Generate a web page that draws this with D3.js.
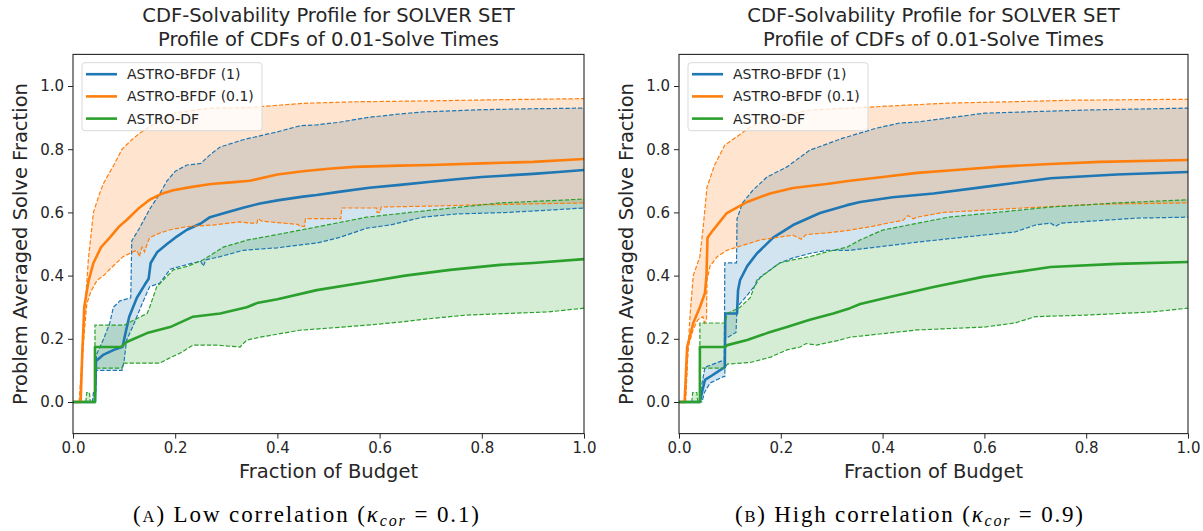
<!DOCTYPE html>
<html>
<head>
<meta charset="utf-8">
<script src="https://cdn.jsdelivr.net/npm/d3@7"></script>
<style>
  body { margin: 0; background: #fff; }
  text { font-family: "DejaVu Sans", sans-serif; fill: #262626; }
</style>
</head>
<body>
<div id="chart"></div>
<script>
// ---- data ([fraction of budget, solve fraction]) ----
const xTicks = [0, 0.2, 0.4, 0.6, 0.8, 1.0];
const yTicks = [0, 0.2, 0.4, 0.6, 0.8, 1.0];
const solvers = ["ASTRO-BFDF (1)", "ASTRO-BFDF (0.1)", "ASTRO-DF"];
const colors = ["#1f77b4", "#ff7f0e", "#2ca02c"];
const titleLines = ["CDF-Solvability Profile for SOLVER SET", "Profile of CDFs of 0.01-Solve Times"];

// low correlation panel
const lowBlueMean = [[0,0],[0.043,0],[0.045,0.13],[0.06,0.15],[0.08,0.165],[0.097,0.175],[0.103,0.22],[0.11,0.27],[0.125,0.33],[0.14,0.37],[0.148,0.39],[0.152,0.44],[0.165,0.475],[0.184,0.5],[0.2,0.52],[0.223,0.545],[0.25,0.565],[0.268,0.585],[0.3,0.6],[0.333,0.615],[0.366,0.628],[0.4,0.638],[0.45,0.65],[0.477,0.655],[0.52,0.665],[0.58,0.678],[0.64,0.687],[0.7,0.697],[0.75,0.705],[0.8,0.712],[0.85,0.717],[0.9,0.722],[0.95,0.728],[1.0,0.734]];
const lowBlueHi = [[0,0],[0.038,0],[0.04,0.03],[0.044,0.03],[0.046,0.15],[0.06,0.2],[0.072,0.25],[0.079,0.3],[0.092,0.32],[0.113,0.33],[0.115,0.51],[0.13,0.55],[0.15,0.61],[0.17,0.66],[0.184,0.7],[0.2,0.73],[0.223,0.75],[0.25,0.755],[0.27,0.785],[0.288,0.807],[0.333,0.83],[0.4,0.855],[0.444,0.874],[0.477,0.877],[0.52,0.885],[0.575,0.9],[0.63,0.91],[0.685,0.918],[0.8,0.925],[0.9,0.928],[1.0,0.93]];
const lowBlueLo = [[0,0],[0.042,0],[0.044,0.02],[0.046,0.1],[0.096,0.1],[0.1,0.13],[0.105,0.196],[0.12,0.25],[0.135,0.31],[0.15,0.365],[0.17,0.376],[0.19,0.42],[0.235,0.44],[0.25,0.445],[0.255,0.43],[0.26,0.45],[0.288,0.46],[0.333,0.48],[0.4,0.488],[0.477,0.503],[0.52,0.52],[0.575,0.55],[0.62,0.56],[0.685,0.585],[0.75,0.595],[0.85,0.6],[0.93,0.607],[1.0,0.614]];
const lowOrangeMean = [[0,0],[0.015,0],[0.018,0.15],[0.022,0.3],[0.03,0.38],[0.04,0.44],[0.055,0.49],[0.072,0.52],[0.09,0.555],[0.105,0.576],[0.13,0.615],[0.15,0.64],[0.175,0.66],[0.196,0.67],[0.23,0.68],[0.27,0.69],[0.31,0.695],[0.346,0.7],[0.4,0.72],[0.45,0.73],[0.5,0.738],[0.55,0.744],[0.64,0.748],[0.7,0.75],[0.8,0.755],[0.9,0.76],[1.0,0.769]];
const lowOrangeHi = [[0,0],[0.012,0],[0.016,0.1],[0.02,0.22],[0.023,0.28],[0.03,0.45],[0.04,0.6],[0.05,0.65],[0.059,0.69],[0.08,0.75],[0.096,0.8],[0.115,0.83],[0.13,0.85],[0.164,0.886],[0.2,0.915],[0.27,0.93],[0.346,0.932],[0.45,0.945],[0.55,0.95],[0.7,0.953],[0.85,0.957],[1.0,0.96]];
const lowOrangeLo = [[0,0],[0.014,0],[0.018,0.12],[0.022,0.22],[0.027,0.31],[0.035,0.35],[0.047,0.385],[0.06,0.4],[0.072,0.42],[0.085,0.44],[0.098,0.46],[0.117,0.475],[0.125,0.48],[0.13,0.46],[0.135,0.49],[0.14,0.475],[0.145,0.5],[0.15,0.52],[0.17,0.535],[0.19,0.545],[0.223,0.555],[0.274,0.56],[0.327,0.57],[0.346,0.566],[0.36,0.566],[0.362,0.58],[0.37,0.572],[0.44,0.562],[0.444,0.556],[0.453,0.556],[0.455,0.58],[0.524,0.58],[0.526,0.614],[0.594,0.614],[0.595,0.6],[0.601,0.6],[0.603,0.617],[0.7,0.62],[0.8,0.624],[0.9,0.627],[1.0,0.63]];
const lowGreenMean = [[0,0],[0.043,0],[0.043,0.174],[0.094,0.174],[0.105,0.19],[0.145,0.218],[0.19,0.237],[0.235,0.27],[0.288,0.28],[0.34,0.3],[0.36,0.313],[0.4,0.325],[0.477,0.354],[0.575,0.38],[0.65,0.4],[0.738,0.418],[0.836,0.434],[0.9,0.44],[1.0,0.452]];
const lowGreenHi = [[0,0],[0.025,0],[0.027,0.03],[0.032,0.03],[0.034,0],[0.043,0],[0.043,0.243],[0.1,0.243],[0.12,0.26],[0.145,0.28],[0.15,0.3],[0.164,0.365],[0.196,0.418],[0.225,0.43],[0.255,0.45],[0.294,0.49],[0.34,0.512],[0.4,0.53],[0.477,0.554],[0.575,0.585],[0.7,0.607],[0.836,0.63],[1.0,0.642]];
const lowGreenLo = [[0,0],[0.043,0],[0.043,0.107],[0.096,0.107],[0.098,0.123],[0.17,0.123],[0.19,0.14],[0.21,0.155],[0.235,0.18],[0.28,0.18],[0.327,0.174],[0.34,0.196],[0.366,0.205],[0.444,0.227],[0.575,0.243],[0.64,0.253],[0.705,0.265],[0.77,0.275],[0.93,0.285],[1.0,0.297]];

// high correlation panel
const highBlueMean = [[0,0],[0.041,0],[0.045,0.03],[0.051,0.07],[0.061,0.08],[0.08,0.1],[0.09,0.11],[0.091,0.28],[0.114,0.28],[0.116,0.354],[0.12,0.386],[0.134,0.43],[0.153,0.47],[0.185,0.52],[0.224,0.56],[0.277,0.598],[0.33,0.623],[0.356,0.633],[0.42,0.648],[0.5,0.66],[0.597,0.68],[0.73,0.708],[0.86,0.72],[1.0,0.728]];
const highBlueHi = [[0,0],[0.04,0],[0.043,0.04],[0.051,0.11],[0.089,0.133],[0.09,0.44],[0.113,0.44],[0.114,0.58],[0.125,0.63],[0.145,0.67],[0.173,0.712],[0.212,0.744],[0.257,0.797],[0.322,0.835],[0.389,0.867],[0.434,0.883],[0.468,0.886],[0.6,0.914],[0.8,0.924],[1.0,0.93]];
const highBlueLo = [[0,0],[0.045,0],[0.05,0.03],[0.061,0.06],[0.087,0.08],[0.09,0.08],[0.091,0.2],[0.112,0.22],[0.114,0.3],[0.13,0.33],[0.15,0.37],[0.16,0.396],[0.198,0.44],[0.224,0.456],[0.257,0.47],[0.29,0.48],[0.336,0.48],[0.468,0.506],[0.597,0.528],[0.66,0.538],[0.7,0.56],[0.73,0.566],[0.74,0.556],[0.75,0.566],[0.9,0.582],[1.0,0.585]];
const highOrangeMean = [[0,0],[0.011,0],[0.016,0.174],[0.028,0.25],[0.041,0.3],[0.051,0.345],[0.054,0.4],[0.056,0.52],[0.067,0.544],[0.094,0.598],[0.134,0.633],[0.179,0.66],[0.224,0.677],[0.29,0.69],[0.336,0.7],[0.4,0.712],[0.468,0.725],[0.55,0.735],[0.63,0.745],[0.73,0.753],[0.827,0.76],[1.0,0.766]];
const highOrangeHi = [[0,0],[0.012,0],[0.016,0.12],[0.022,0.28],[0.028,0.4],[0.041,0.46],[0.047,0.545],[0.055,0.68],[0.07,0.75],[0.09,0.813],[0.114,0.84],[0.14,0.87],[0.18,0.9],[0.257,0.924],[0.336,0.93],[0.43,0.938],[0.53,0.946],[0.65,0.95],[0.77,0.955],[1.0,0.958]];
const highOrangeLo = [[0,0],[0.013,0],[0.018,0.174],[0.028,0.23],[0.037,0.26],[0.047,0.27],[0.05,0.25],[0.054,0.26],[0.055,0.386],[0.061,0.43],[0.075,0.46],[0.094,0.48],[0.114,0.49],[0.16,0.513],[0.224,0.528],[0.24,0.515],[0.25,0.53],[0.29,0.535],[0.336,0.544],[0.38,0.556],[0.41,0.566],[0.44,0.575],[0.45,0.59],[0.46,0.58],[0.468,0.585],[0.52,0.6],[0.664,0.613],[0.827,0.626],[1.0,0.63]];
const highGreenMean = [[0,0],[0.041,0],[0.041,0.174],[0.09,0.174],[0.095,0.18],[0.134,0.196],[0.173,0.218],[0.212,0.237],[0.257,0.26],[0.303,0.28],[0.336,0.297],[0.356,0.31],[0.42,0.335],[0.5,0.364],[0.597,0.396],[0.73,0.427],[0.86,0.437],[1.0,0.443]];
const highGreenHi = [[0,0],[0.025,0],[0.027,0.03],[0.035,0.03],[0.037,0],[0.041,0],[0.041,0.25],[0.09,0.25],[0.095,0.28],[0.12,0.3],[0.14,0.33],[0.153,0.386],[0.198,0.44],[0.224,0.45],[0.257,0.46],[0.29,0.475],[0.33,0.49],[0.356,0.513],[0.4,0.544],[0.53,0.585],[0.73,0.617],[0.86,0.63],[1.0,0.64]];
const highGreenLo = [[0,0],[0.041,0],[0.041,0.107],[0.09,0.107],[0.095,0.12],[0.14,0.125],[0.18,0.142],[0.212,0.165],[0.238,0.174],[0.25,0.185],[0.27,0.18],[0.316,0.196],[0.336,0.205],[0.468,0.228],[0.6,0.237],[0.66,0.25],[0.7,0.27],[0.8,0.275],[0.93,0.285],[1.0,0.297]];

const panels = [
  { left: 73, right: 584, label: "A", caption: " Low correlation (", kappa: "0.1", capX: 306, capW: 346,
    series: [[lowBlueMean, lowBlueLo, lowBlueHi], [lowOrangeMean, lowOrangeLo, lowOrangeHi], [lowGreenMean, lowGreenLo, lowGreenHi]] },
  { left: 679, right: 1188, label: "B", caption: " High correlation (", kappa: "0.9", capX: 909, capW: 348,
    series: [[highBlueMean, highBlueLo, highBlueHi], [highOrangeMean, highOrangeLo, highOrangeHi], [highGreenMean, highGreenLo, highGreenHi]] }
];

const width = 1203, height = 531;
const plotTop = 54.4, plotBottom = 433.6;

const svg = d3.select("#chart").append("svg")
  .attr("width", width)
  .attr("height", height);

const y = d3.scaleLinear().domain([-0.1, 1.1]).range([plotBottom, plotTop]);

panels.forEach((p, pi) => {
  const x = d3.scaleLinear().domain([0, 1]).range([p.left, p.right]);
  const g = svg.append("g");
  const clipId = "clip" + pi;
  g.append("clipPath").attr("id", clipId)
    .append("rect").attr("x", p.left).attr("y", plotTop).attr("width", p.right - p.left).attr("height", plotBottom - plotTop);

  const line = d3.line().x(d => x(d[0])).y(d => y(d[1]));
  const plot = g.append("g").attr("clip-path", `url(#${clipId})`);

  // shaded bands first (matplotlib draws collections under lines)
  p.series.forEach((s, i) => {
    const band = s[2].concat(s[1].slice().reverse());
    plot.append("path")
      .attr("d", line(band) + "Z")
      .attr("fill", colors[i])
      .attr("fill-opacity", 0.2)
      .attr("stroke", "none");
  });

  p.series.forEach((s, i) => {
    plot.append("path").attr("d", line(s[0]))
      .attr("fill", "none").attr("stroke", colors[i]).attr("stroke-width", 2.6)
      .attr("stroke-linejoin", "round");
    [s[1], s[2]].forEach(b => {
      plot.append("path").attr("d", line(b))
        .attr("fill", "none").attr("stroke", colors[i]).attr("stroke-width", 1.2)
        .attr("stroke-dasharray", "4.4,1.9");
    });
  });

  // axes
  const xAxis = d3.axisBottom(x).tickValues(xTicks).tickSize(5).tickPadding(4).tickFormat(d3.format(".1f"));
  const yAxis = d3.axisLeft(y).tickValues(yTicks).tickSize(5).tickPadding(4).tickFormat(d3.format(".1f"));
  const gx = g.append("g").attr("transform", `translate(0,${plotBottom})`).call(xAxis);
  const gy = g.append("g").attr("transform", `translate(${p.left},0)`).call(yAxis);
  [gx, gy].forEach(a => {
    a.select(".domain").remove();
    a.selectAll("line").attr("stroke", "#262626").attr("stroke-width", 1);
    a.selectAll("text").attr("font-size", 15).attr("font-family", "DejaVu Sans").attr("fill", "#262626");
  });
  g.append("rect")
    .attr("x", p.left).attr("y", plotTop)
    .attr("width", p.right - p.left).attr("height", plotBottom - plotTop)
    .attr("fill", "none").attr("stroke", "#262626").attr("stroke-width", 1.1);

  const cx = (p.left + p.right) / 2;
  titleLines.forEach((t, k) => {
    g.append("text").attr("x", cx).attr("y", 22 + k * 23.5)
      .attr("text-anchor", "middle").attr("font-size", 19.5).text(t);
  });
  g.append("text").attr("x", cx).attr("y", 478)
    .attr("text-anchor", "middle").attr("font-size", 19.5).text("Fraction of Budget");
  g.append("text")
    .attr("transform", `translate(${p.left - 46.5},${(plotTop + plotBottom) / 2}) rotate(-90)`)
    .attr("text-anchor", "middle").attr("font-size", 19.5).text("Problem Averaged Solve Fraction");

  // legend
  const lg = g.append("g").attr("transform", `translate(${p.left + 9},${62.7})`);
  lg.append("rect").attr("width", 180).attr("height", 68).attr("rx", 3)
    .attr("fill", "#fff").attr("fill-opacity", 0.8).attr("stroke", "#d9d9d9");
  solvers.forEach((name, i) => {
    const ly = 11.5 + i * 22.2;
    lg.append("line").attr("x1", 4).attr("x2", 35).attr("y1", ly).attr("y2", ly)
      .attr("stroke", colors[i]).attr("stroke-width", 2.6);
    lg.append("text").attr("x", 45).attr("y", ly + 5).attr("font-size", 14).text(name);
  });

  // caption under the panel (LaTeX-like serif), stretched to the width seen in the picture
  const cap = g.append("text").attr("x", p.capX - p.capW / 2).attr("y", 522)
    .attr("textLength", p.capW).attr("lengthAdjust", "spacing")
    .style("font-family", "'Liberation Serif', 'DejaVu Serif', serif")
    .attr("font-size", 23).style("fill", "#000");
  cap.append("tspan").text("(");
  cap.append("tspan").attr("font-size", 16.5).text(p.label);
  cap.append("tspan").text(")" + p.caption);
  cap.append("tspan").attr("font-style", "italic").text("κ");
  cap.append("tspan").attr("font-style", "italic").attr("font-size", 16).attr("dy", 3.5).text("cor");
  cap.append("tspan").attr("dy", -3.5).text(" = " + p.kappa + ")");
});
</script>
</body>
</html>
